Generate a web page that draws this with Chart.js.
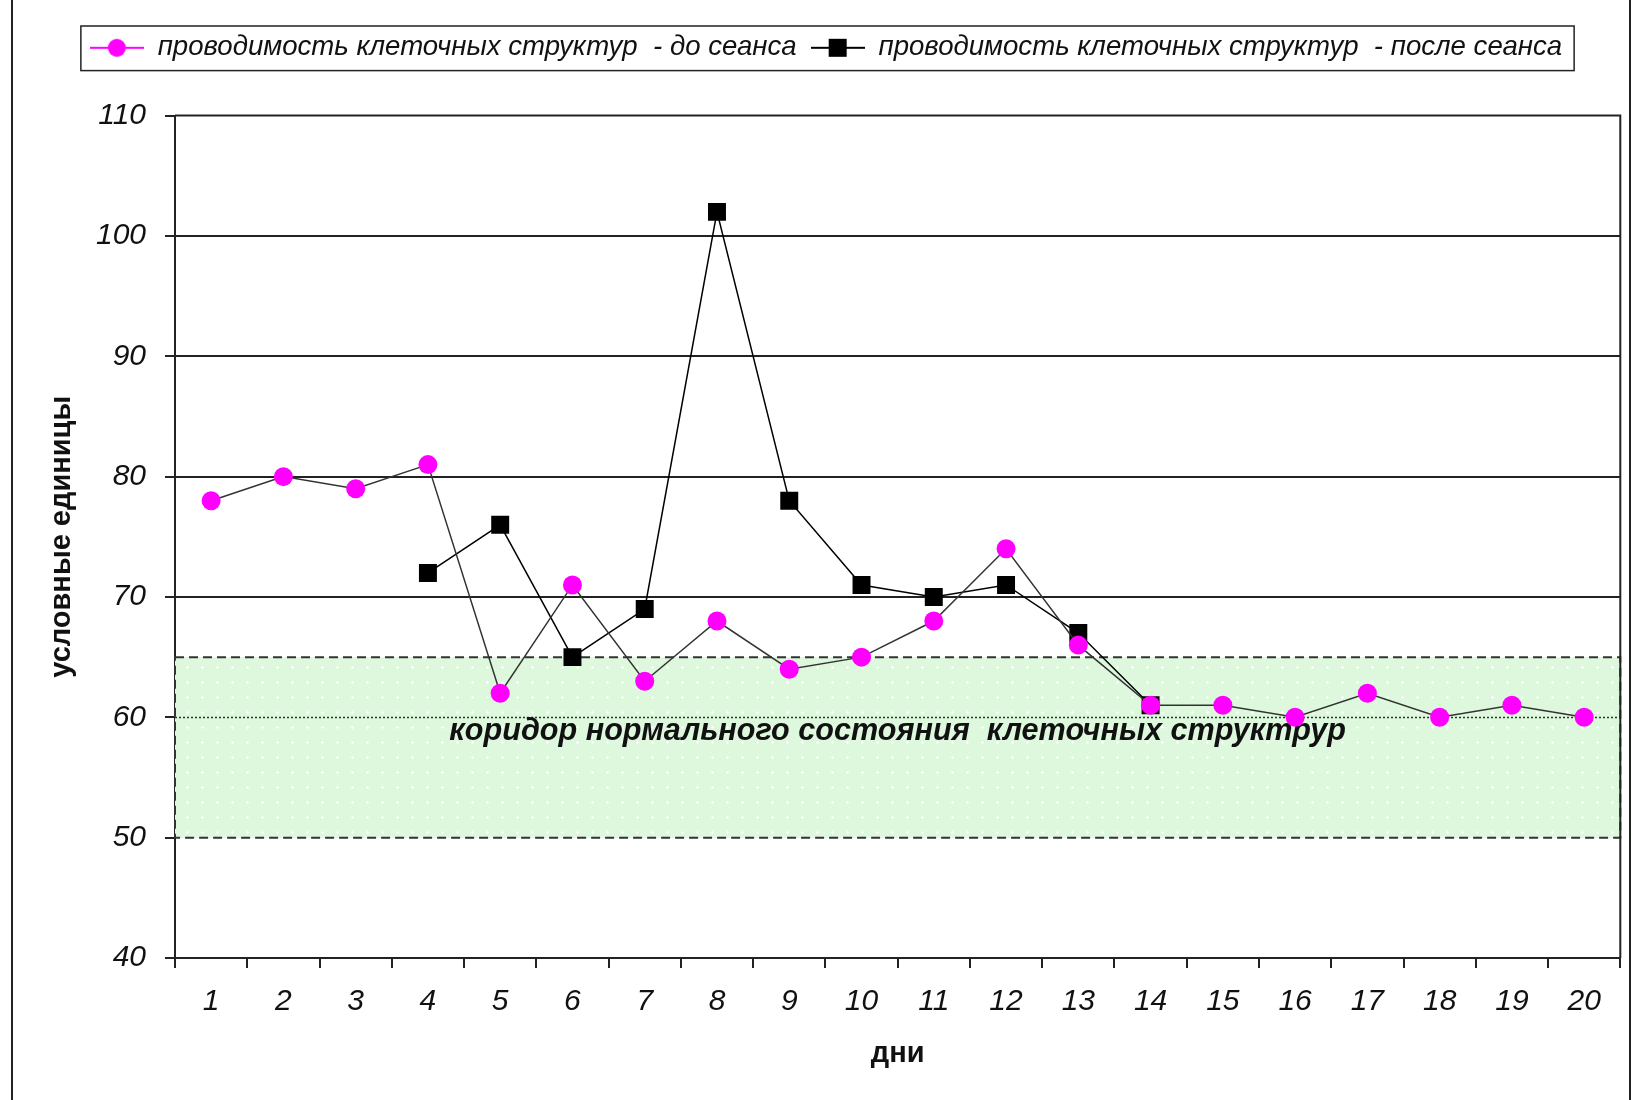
<!DOCTYPE html>
<html>
<head>
<meta charset="utf-8">
<script src="https://cdn.jsdelivr.net/npm/chart.js@4.4.0/dist/chart.umd.min.js"></script>
<style>
body { margin: 0; background: #fff; }
</style>
</head>
<body>
<canvas id="grafik" width="1633" height="1100"></canvas>
<script>
const dni = ['1','2','3','4','5','6','7','8','9','10','11','12','13','14','15','16','17','18','19','20'];
const doSeansa = [78,80,79,81,62,71,63,68,64,65,68,74,66,61,61,60,62,60,61,60];
const posleSeansa = [null,null,null,72,76,65,69,102,78,71,70,71,67,61,null,null,null,null,null,null];
const yTicks = [40,50,60,70,80,90,100,110];
const koridor = [50,65];
const normaLinija = 60;
const koridorTekst = 'коридор нормального состояния  клеточных структрур';

const shrift = '"Liberation Sans", Arial, sans-serif';

// legend markers: little line with the marker in the middle
function legendMarker(tip) {
    const c = document.createElement('canvas');
    c.width = 54; c.height = 22;
    const g = c.getContext('2d');
    g.strokeStyle = tip === 'krug' ? '#ff00ff' : '#000';
    g.lineWidth = 2;
    g.beginPath(); g.moveTo(0, 11); g.lineTo(54, 11); g.stroke();
    if (tip === 'krug') {
        g.fillStyle = '#ff00ff';
        g.beginPath(); g.arc(27, 11, 9, 0, Math.PI * 2); g.fill();
    } else {
        g.fillStyle = '#000';
        g.fillRect(18, 2, 18, 18);
    }
    return c;
}

// green pattern for the band
function zelenyjUzor() {
    const c = document.createElement('canvas');
    c.width = 15; c.height = 15;
    const g = c.getContext('2d');
    g.fillStyle = '#ddf8dd';
    g.fillRect(0, 0, 15, 15);
    g.fillStyle = '#ffffff';
    g.fillRect(7, 6, 1, 3);
    g.fillRect(6, 7, 3, 1);
    return g.createPattern(c, 'repeat');
}

const koridorPlugin = {
    id: 'koridor',
    beforeLayout(chart) {
        // more room between legend and plot
        const lg = chart.legend;
        if (lg && !lg._dopVysota) {
            const fit = lg.fit;
            lg.fit = function () { fit.call(this); this.height += 44; };
            lg._dopVysota = true;
        }
    },
    beforeDatasetsDraw(chart) {
        const ctx = chart.ctx;
        const y = chart.scales.y;
        const a = chart.chartArea;
        const yTop = y.getPixelForValue(koridor[1]);
        const yBot = y.getPixelForValue(koridor[0]);
        ctx.save();
        ctx.fillStyle = zelenyjUzor();
        ctx.fillRect(a.left, yTop, a.right - a.left, yBot - yTop);
        ctx.strokeStyle = '#333';
        ctx.lineWidth = 2;
        ctx.setLineDash([9, 5]);
        ctx.strokeRect(a.left, yTop, a.right - a.left, yBot - yTop);
        // dotted line at 60
        ctx.setLineDash([2, 2]);
        ctx.lineWidth = 1.5;
        const y60 = Math.round(y.getPixelForValue(normaLinija)) + 0.5;
        ctx.beginPath();
        ctx.moveTo(a.left, y60); ctx.lineTo(a.right, y60);
        ctx.stroke();
        ctx.setLineDash([]);
        ctx.font = 'italic bold 30.6px ' + shrift;
        ctx.fillStyle = '#111';
        ctx.textAlign = 'center';
        ctx.textBaseline = 'middle';
        ctx.fillText(koridorTekst, (a.left + a.right) / 2, y.getPixelForValue(58.8));
        ctx.restore();
    },
    afterDraw(chart) {
        const ctx = chart.ctx;
        const a = chart.chartArea;
        ctx.save();
        // plot frame (top + right)
        ctx.strokeStyle = '#222';
        ctx.lineWidth = 2;
        ctx.beginPath();
        ctx.moveTo(a.left, a.top); ctx.lineTo(a.right, a.top); ctx.lineTo(a.right, a.bottom);
        ctx.stroke();
        // legend frame
        const hb = chart.legend.legendHitBoxes;
        if (hb && hb.length) {
            const x0 = hb[0].left - 9;
            const x1 = hb[hb.length - 1].left + hb[hb.length - 1].width + 12;
            const y0 = hb[0].top - 8;
            const y1 = hb[0].top + hb[0].height + 9;
            ctx.lineWidth = 1.5;
            ctx.strokeRect(x0, y0, x1 - x0, y1 - y0);
        }
        // outer frame
        ctx.lineWidth = 2;
        ctx.beginPath();
        ctx.moveTo(12, 0); ctx.lineTo(12, 1100);
        ctx.moveTo(1630, 0); ctx.lineTo(1630, 1100);
        ctx.stroke();
        ctx.restore();
    }
};

new Chart(document.getElementById('grafik'), {
    type: 'line',
    data: {
        labels: dni,
        datasets: [{
            label: 'проводимость клеточных структур  - до сеанса',
            data: doSeansa,
            borderColor: '#333',
            borderWidth: 1.5,
            pointStyle: 'circle',
            pointRadius: 9.5,
            pointBackgroundColor: '#ff00ff',
            pointBorderColor: '#ff00ff',
            pointBorderWidth: 0,
            tension: 0
        }, {
            label: 'проводимость клеточных структур  - после сеанса',
            data: posleSeansa,
            borderColor: '#000',
            borderWidth: 1.5,
            pointStyle: 'rect',
            pointRadius: 12.7,
            pointBackgroundColor: '#000',
            pointBorderColor: '#000',
            pointBorderWidth: 0,
            spanGaps: false,
            tension: 0
        }]
    },
    options: {
        responsive: false,
        devicePixelRatio: 1,
        animation: false,
        layout: { padding: { left: 31, right: 12, top: 20, bottom: 0 } },
        plugins: {
            tooltip: { enabled: false },
            legend: {
                position: 'top',
                labels: {
                    color: '#111',
                    font: { family: shrift, size: 27.6, style: 'italic' },
                    usePointStyle: true,
                    pointStyleWidth: 54,
                    padding: 14,
                    generateLabels(chart) {
                        return chart.data.datasets.map((ds, i) => ({
                            text: ds.label,
                            pointStyle: legendMarker(i === 0 ? 'krug' : 'kvadrat'),
                            fillStyle: 'transparent',
                            strokeStyle: 'transparent',
                            lineWidth: 0,
                            datasetIndex: i,
                            fontColor: '#111'
                        }));
                    }
                }
            }
        },
        scales: {
            x: {
                offset: true,
                grid: { offset: true, drawOnChartArea: false, drawTicks: true, tickLength: 10, color: '#222', lineWidth: 2 },
                border: { color: '#222', width: 2 },
                ticks: { color: '#111', font: { family: shrift, size: 30, style: 'italic' }, padding: 16, maxRotation: 0 },
                title: { display: true, text: 'дни', color: '#111', font: { family: shrift, size: 29, weight: 'bold' }, padding: { top: 10, bottom: 29 } },
                afterFit(scale) { scale.height = 142; }
            },
            y: {
                min: 40,
                max: 110,
                afterBuildTicks(scale) { scale.ticks = yTicks.map(v => ({ value: v })); },
                grid: {
                    color: c => (c.tick && c.tick.value >= 70 && c.tick.value <= 100) ? '#222' : 'transparent',
                    lineWidth: 2,
                    drawTicks: true,
                    tickLength: 10,
                    tickColor: '#222'
                },
                border: { color: '#222', width: 2 },
                ticks: { color: '#111', font: { family: shrift, size: 30, style: 'italic' }, padding: 19 },
                title: { display: true, text: 'условные единицы', color: '#111', font: { family: shrift, size: 29, weight: 'bold' }, padding: { top: 14, bottom: 0 } },
                afterFit(scale) { scale.width = 144; }
            }
        }
    },
    plugins: [koridorPlugin]
});
</script>
</body>
</html>
